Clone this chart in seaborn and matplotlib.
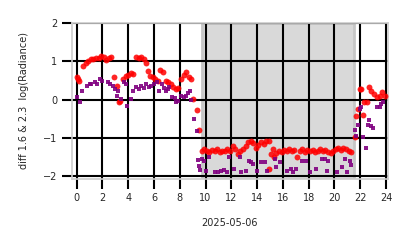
import matplotlib
matplotlib.use("Agg")
import matplotlib.pyplot as plt
import seaborn as sns
import pandas as pd

# ---- data (hours of day, diff of log radiance) ----
red_hours = [0.0, 0.1, 0.2, 0.5, 0.7, 0.9, 1.1, 1.3, 1.5, 1.7, 1.9, 2.1, 2.3, 2.5, 2.7,
             2.9, 3.1, 3.3, 3.4, 3.6, 3.8, 4.0, 4.2, 4.4, 4.6, 4.8, 5.0, 5.2, 5.4, 5.5,
             5.7, 5.9, 6.1, 6.3, 6.5, 6.7, 6.9, 7.1, 7.3, 7.5, 7.7, 7.9, 8.1, 8.3, 8.5,
             8.7, 8.9, 9.05, 9.35, 9.5,
             9.7, 9.9, 10.1, 10.3, 10.5, 10.7, 10.9, 11.1, 11.3, 11.5, 11.7, 11.9, 12.1,
             12.3, 12.5, 12.7, 12.9, 13.1, 13.3, 13.5, 13.7, 13.9, 14.1, 14.3, 14.5, 14.7,
             14.9, 14.95, 15.1, 15.2, 15.3, 15.5, 15.7, 15.9, 16.1, 16.3, 16.5, 16.7, 16.9,
             17.1, 17.3, 17.5, 17.7, 17.9, 18.1, 18.3, 18.5, 18.7, 18.9, 19.1, 19.3, 19.5,
             19.7, 19.9, 20.1, 20.3, 20.5, 20.7, 20.9, 21.1, 21.3,
             21.6, 21.65, 21.8, 21.95, 22.1, 22.25, 22.3, 22.5, 22.7, 22.8, 23.1, 23.3,
             23.5, 23.7, 23.9]
red_values = [0.60, 0.55, 0.50, 0.87, 0.95, 1.02, 1.07, 1.05, 1.10, 1.08, 1.15, 1.12, 1.03, 1.10, 1.12,
              0.58, 0.35, -0.07, -0.03, 0.55, 0.62, 0.65, 0.70, 0.68, 1.12, 1.10, 1.12, 1.07, 0.95, 0.74,
              0.62, 0.58, 0.55, 0.50, 0.77, 0.72, 0.48, 0.45, 0.40, 0.33, 0.28, 0.30, 0.55, 0.65, 0.72,
              0.58, 0.55, 0.03, -0.27, -0.80,
              -1.35, -1.30, -1.33, -1.36, -1.32, -1.34, -1.30, -1.36, -1.33, -1.35, -1.30, -1.33, -1.22,
              -1.30, -1.42, -1.33, -1.28, -1.20, -1.10, -1.07, -1.12, -1.25, -1.18, -1.10, -1.15, -1.09,
              -1.07, -1.80, -1.42, -1.30, -1.50, -1.38, -1.33, -1.37, -1.31, -1.34, -1.30, -1.35, -1.32,
              -1.50, -1.33, -1.30, -1.36, -1.32, -1.35, -1.31, -1.37, -1.33, -1.30, -1.35, -1.32, -1.36,
              -1.40, -1.33, -1.30, -1.27, -1.32, -1.25, -1.30, -1.33, -1.37,
              -0.98, -0.43, -0.25, 0.27, 0.27, -0.40, -0.07, -0.07, 0.32, 0.22, 0.14, 0.06,
              0.10, 0.19, 0.10]

purple_hours = [0.0, 0.25, 0.4, 0.77, 1.0, 1.15, 1.4, 1.6, 1.8, 2.0, 2.4, 2.6, 2.8, 2.95, 3.1,
                3.2, 3.45, 3.7, 3.85, 3.9, 4.2, 4.35, 4.6, 4.8, 5.0, 5.2, 5.4, 5.6, 5.8, 6.0,
                6.2, 6.4, 6.6, 6.8, 6.9, 7.1, 7.2, 7.4, 7.6, 7.7, 7.9, 8.1, 8.3, 8.5, 8.6,
                8.8, 8.9, 9.1, 9.3, 9.4, 9.5, 9.6, 9.75, 9.9,
                10.05, 10.3, 10.7, 11.0, 11.2, 11.4, 11.7, 11.8, 12.2, 12.7, 12.75, 13.1, 13.35,
                13.5, 13.7, 14.0, 14.3, 14.6, 14.8, 15.4, 15.5, 15.8, 16.3, 16.6, 16.8, 17.0,
                17.5, 17.8, 18.1, 18.6, 19.0, 19.3, 19.4, 19.5, 20.2, 20.6, 20.8, 21.0, 21.2,
                21.3,
                21.6, 21.7, 21.8, 21.95, 22.05, 22.25, 22.45, 22.6, 22.7, 22.85, 23.0, 23.3,
                23.5, 23.6, 23.8]
purple_values = [0.06, -0.07, 0.22, 0.35, 0.40, 0.40, 0.45, 0.42, 0.53, 0.48, 0.45, 0.40, 0.35, 0.27, 0.10,
                 0.22, 0.02, 0.45, 0.40, -0.17, 0.03, 0.22, 0.32, 0.27, 0.35, 0.30, 0.40, 0.32, 0.35, 0.40,
                 0.45, 0.22, 0.40, 0.30, 0.22, 0.28, 0.32, 0.06, 0.05, -0.07, -0.03, 0.10, 0.06, 0.10, 0.18,
                 0.22, -0.02, -0.50, -0.83, -1.57, -1.72, -1.83, -1.55, -1.60,
                 -1.85, -1.50, -1.88, -1.88, -1.85, -1.83, -1.88, -1.50, -1.80, -1.50, -1.88, -1.85, -1.60,
                 -1.62, -1.67, -1.85, -1.62, -1.62, -1.85, -1.55, -1.75, -1.62, -1.85, -1.80, -1.88, -1.80,
                 -1.60, -1.60, -1.88, -1.82, -1.55, -1.55, -1.85, -1.60, -1.88, -1.75, -1.55, -1.88, -1.60,
                 -1.70,
                 -0.78, -0.95, -0.65, -0.25, -0.20, -0.98, -1.25, -0.65, -0.52, -0.70, -0.75, -0.20,
                 -0.20, -0.12, -0.05]

x_ticks = [0, 2, 4, 6, 8, 10, 12, 14, 16, 18, 20, 22, 24]
y_ticks = [-2, -1, 0, 1, 2]
shade_start, shade_end = 9.75, 21.5
date_label = "2025-05-06"
y_label = "diff 1.6 & 2.3  log(Radiance)"

red_df = pd.DataFrame({"hour": red_hours, "value": red_values})
purple_df = pd.DataFrame({"hour": purple_hours, "value": purple_values})

sns.set_style("white")
plt.rcParams["font.family"] = ["DejaVu Sans"]

fig = plt.figure(figsize=(4.14, 2.48), dpi=100)
ax = fig.add_axes([0.174, 0.28, 0.763, 0.627])

ax.axvspan(shade_start, shade_end, facecolor="#d9d9d9", edgecolor="#c6c6c6",
           linewidth=2, zorder=0.2)

sns.scatterplot(data=red_df, x="hour", y="value", ax=ax, color="#ff0000",
                marker="o", s=18, linewidth=0, alpha=0.85, zorder=3)
sns.scatterplot(data=purple_df, x="hour", y="value", ax=ax, color="#800080",
                marker="s", s=10, linewidth=0, alpha=0.9, zorder=3)

ax.set_xlim(-0.36, 24.15)
ax.set_ylim(-2.06, 2.0)
ax.set_xticks(x_ticks)
ax.set_yticks(y_ticks)
ax.set_axisbelow(True)
ax.grid(True, color="black", linewidth=1.5)
for sp in ax.spines.values():
    sp.set_color("#cccccc")
    sp.set_linewidth(1.2)
ax.tick_params(axis="both", which="major", length=7, width=1.5, color="black",
               labelsize=7, pad=3.5, bottom=True, left=True)
ax.set_xlabel(date_label, fontsize=7, labelpad=11)
ax.set_ylabel(y_label, fontsize=7, labelpad=10)

fig.savefig("out.png", dpi=100)
